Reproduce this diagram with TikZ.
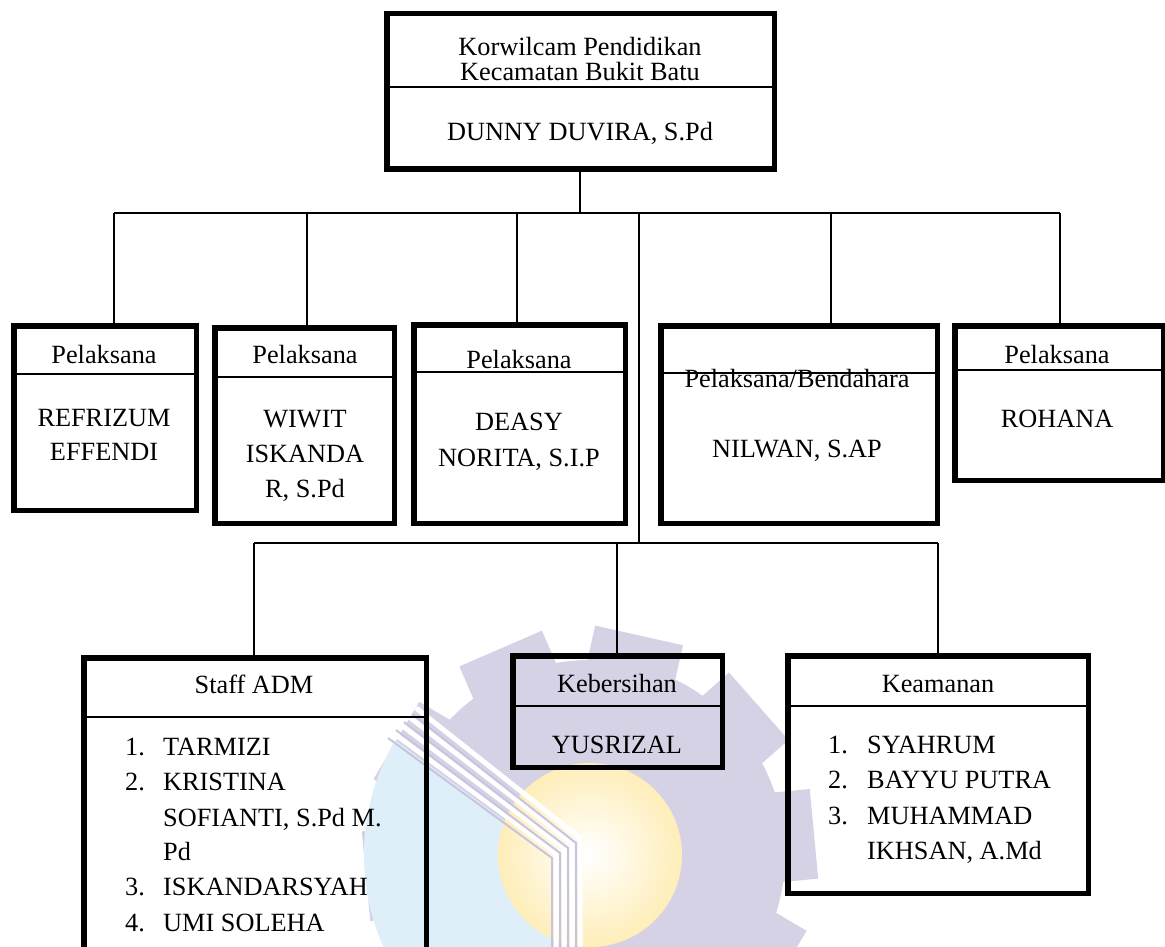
\documentclass[tikz,border=0pt]{standalone}
\usepackage{fontspec}
\setmainfont{Liberation Serif}
\definecolor{lav}{RGB}{214,210,230}
\definecolor{lavline}{RGB}{200,196,224}
\definecolor{lblue}{RGB}{222,239,250}
\definecolor{ylw}{RGB}{255,238,185}
\newcommand\orgbox[5]{\node[box, minimum width={#4-#2-5.5}, minimum height={#5-#3-5.5}] (#1) at ({(#2+#4)/2},{(#3+#5)/2}) {};}
\newcommand\divider[2]{\draw[divline] (#1.west |- 0,#2) -- (#1.east |- 0,#2);}
\begin{document}
\begin{tikzpicture}[x=1pt,y=-1pt,
  box/.style={draw, line width=5.5pt, inner sep=0pt, outer sep=0pt, rectangle},
  conn/.style={line width=1.8pt},
  divline/.style={line width=2pt},
  lbl/.style={anchor=base, inner sep=0pt, font=\fontsize{26.3}{32}\selectfont},
  lbw/.style={anchor=base west, inner sep=0pt, font=\fontsize{26.3}{32}\selectfont}]
\useasboundingbox (0,0) rectangle (1165,947);

% ---------- watermark ----------
\fill[lav] (590,855) circle (195);
\foreach \k in {0,...,9}{
  \fill[lav, rotate around={-12.6+36*\k:(590,855)}] (545,630) rectangle (635,700);
}
\begin{scope}
  \clip (590,855) circle (226);
  \fill[lblue] (300,700) -- (392,738) -- (552,856) -- (552,960) -- (300,960) -- cycle;
\end{scope}
\shade[inner color=white, outer color=ylw] (590,855) circle (92);
\foreach \k in {0,...,3}{
  \draw[white, line width=5pt] ({392+8*\k},{732-8*\k}) -- ({556+8*\k},{853-5*\k}) -- ({556+8*\k},960);
  \draw[lavline, line width=2pt] ({388+8*\k},{738-8*\k}) -- ({552+8*\k},{858-5*\k}) -- ({552+8*\k},960);
}

% ---------- boxes ----------
\orgbox{top}{384}{11}{777}{172}
\orgbox{b1}{11}{323}{199}{513}
\orgbox{b2}{212}{325}{397}{526}
\orgbox{b3}{411}{322}{628}{526}
\orgbox{b4}{658}{323}{940}{526}
\orgbox{b5}{952}{323}{1166}{483}
\orgbox{staff}{81}{655}{429}{975}
\orgbox{keb}{510}{653}{725}{770}
\orgbox{kea}{785}{653}{1091}{896}

\divider{top}{87}
\divider{b1}{374}
\divider{b2}{377}
\divider{b3}{372}
\divider{b4}{373}
\divider{b5}{370}
\divider{staff}{717}
\divider{keb}{706}
\divider{kea}{706}

% ---------- connectors ----------
\coordinate (tj) at (580,213);
\coordinate (bL) at (114,213);
\coordinate (bR) at (1060,213);
\coordinate (d2) at (307,213);
\coordinate (d3) at (517,213);
\coordinate (dc) at (639,213);
\coordinate (d4) at (831,213);
\coordinate (cL) at (254,543);
\coordinate (cM) at (617,543);
\coordinate (cR) at (938,543);
\coordinate (cj) at (639,543);

\draw[conn] (top.south -| tj) -- (tj);
\draw[conn] (bL) -- (bR);
\draw[conn] (bL) -- (bL |- b1.north);
\draw[conn] (d2) -- (d2 |- b2.north);
\draw[conn] (d3) -- (d3 |- b3.north);
\draw[conn] (d4) -- (d4 |- b4.north);
\draw[conn] (bR) -- (bR |- b5.north);
\draw[conn] (dc) -- (cj);
\draw[conn] (cL) -- (cR);
\draw[conn] (cL) -- (cL |- staff.north);
\draw[conn] (cM) -- (cM |- keb.north);
\draw[conn] (cR) -- (cR |- kea.north);

% ---------- texts ----------
\node[lbl] (tx1) at (580,56) {Korwilcam Pendidikan};
\node[lbl] (tx2) at (580,81) {Kecamatan Bukit Batu};
\node[lbl] (tx3) at (580,141) {DUNNY DUVIRA, S.Pd};

\node[lbl] (p1) at (104,363) {Pelaksana};
\node[lbl] (n1a) at (104,426) {REFRIZUM};
\node[lbl] (n1b) at (104,460) {EFFENDI};

\node[lbl] (p2) at (305,363) {Pelaksana};
\node[lbl] (n2a) at (305,427) {WIWIT};
\node[lbl] (n2b) at (305,462) {ISKANDA};
\node[lbl] (n2c) at (305,497) {R, S.Pd};

\node[lbl] (p3) at (519,368) {Pelaksana};
\node[lbl] (n3a) at (519,430) {DEASY};
\node[lbl] (n3b) at (519,466) {NORITA, S.I.P};

\node[lbl] (p4) at (797,387) {Pelaksana/Bendahara};
\node[lbl] (n4a) at (797,457) {NILWAN, S.AP};

\node[lbl] (p5) at (1057,363) {Pelaksana};
\node[lbl] (n5a) at (1057,427) {ROHANA};

\node[lbl] (hs) at (254,693) {Staff ADM};
\node[lbw] (s1n) at (125,755) {1.};
\node[lbw] (s1) at (163,755) {TARMIZI};
\node[lbw] (s2n) at (125,790) {2.};
\node[lbw] (s2) at (163,790) {KRISTINA};
\node[lbw] (s2b) at (163,826) {SOFIANTI, S.Pd M.};
\node[lbw] (s2c) at (163,860) {Pd};
\node[lbw] (s3n) at (125,895) {3.};
\node[lbw] (s3) at (163,895) {ISKANDARSYAH};
\node[lbw] (s4n) at (125,931) {4.};
\node[lbw] (s4) at (163,931) {UMI SOLEHA};

\node[lbl] (hk) at (617,692) {Kebersihan};
\node[lbl] (k1) at (617,753) {YUSRIZAL};

\node[lbl] (ha) at (938,692) {Keamanan};
\node[lbw] (a1n) at (828,753) {1.};
\node[lbw] (a1) at (867,753) {SYAHRUM};
\node[lbw] (a2n) at (828,788) {2.};
\node[lbw] (a2) at (867,788) {BAYYU PUTRA};
\node[lbw] (a3n) at (828,824) {3.};
\node[lbw] (a3) at (867,824) {MUHAMMAD};
\node[lbw] (a3b) at (867,859) {IKHSAN, A.Md};
\end{tikzpicture}
\end{document}
